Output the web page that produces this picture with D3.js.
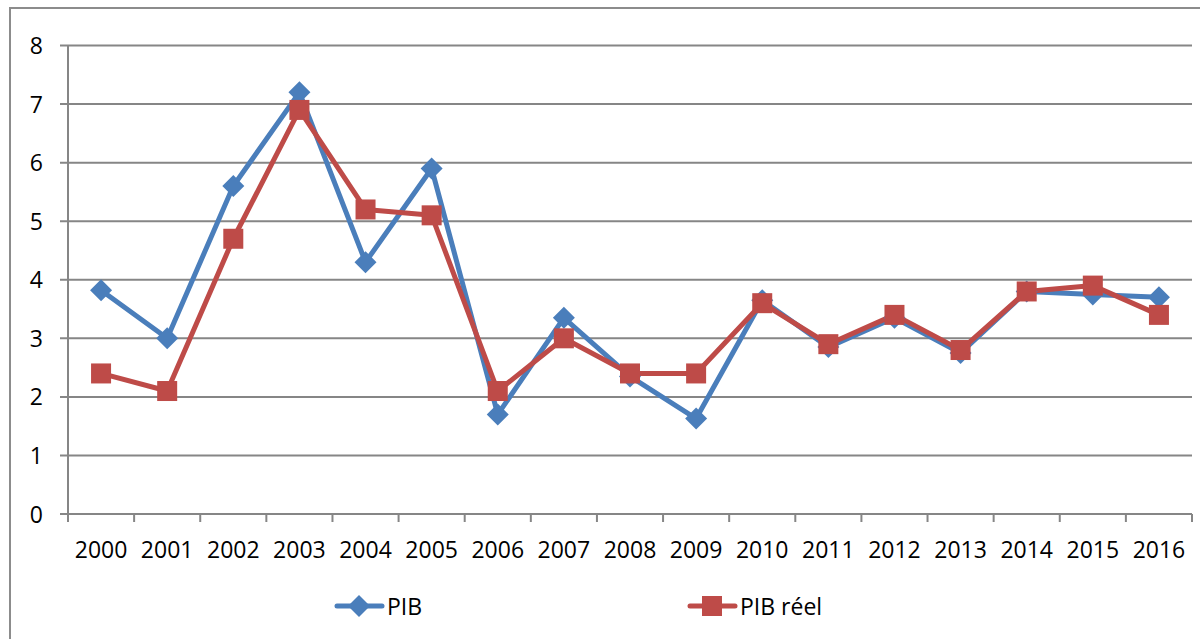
<!doctype html>
<html>
<head>
<meta charset="UTF-8">
<script src="https://cdn.jsdelivr.net/npm/d3@7/dist/d3.min.js"></script>
<style>
  body { margin: 0; background: #fff; }
  text { font-family: "Open Sans", "Noto Sans", sans-serif; fill: #000; }
</style>
</head>
<body>
<script>
var years = ['2000','2001','2002','2003','2004','2005','2006','2007','2008','2009','2010','2011','2012','2013','2014','2015','2016'];
var pib     = [3.82, 3.0, 5.6, 7.2, 4.3, 5.9, 1.7, 3.35, 2.35, 1.63, 3.65, 2.85, 3.35, 2.75, 3.8, 3.75, 3.7];
var pibReel = [2.4, 2.1, 4.7, 6.9, 5.2, 5.1, 2.1, 3.0, 2.4, 2.4, 3.6, 2.9, 3.4, 2.8, 3.8, 3.9, 3.4];
var yTicks  = [0, 1, 2, 3, 4, 5, 6, 7, 8];

var W = 1200, H = 639;
var plotLeft = 68, plotRight = 1192, plotTop = 45.5, plotBottom = 514;

var svg = d3.select("body").append("svg")
    .attr("width", W).attr("height", H);

// outer frame
svg.append("rect")
    .attr("x", 10).attr("y", 8)
    .attr("width", W + 10).attr("height", H + 10)
    .style("fill", "none").style("stroke", "#8c8c8c").style("stroke-width", 2);

var x = d3.scaleBand().domain(years).range([plotLeft, plotRight]);
var y = d3.scaleLinear().domain([0, 8]).range([plotBottom, plotTop]);

// gridlines + y tick marks
svg.selectAll(".grid")
    .data(yTicks)
    .enter().append("line")
    .attr("x1", plotLeft - 8).attr("x2", plotRight)
    .attr("y1", function (d) { return y(d); })
    .attr("y2", function (d) { return y(d); })
    .style("stroke", "#868686").style("stroke-width", 2);

svg.selectAll(".ylab")
    .data(yTicks)
    .enter().append("text")
    .attr("x", 43)
    .attr("y", function (d) { return y(d) + 8.5; })
    .style("text-anchor", "end")
    .style("font-size", "23px")
    .text(function (d) { return d; });

// y axis
svg.append("line")
    .attr("x1", plotLeft).attr("x2", plotLeft)
    .attr("y1", plotTop).attr("y2", plotBottom)
    .style("stroke", "#868686").style("stroke-width", 2);

// x axis ticks (between bands)
var edges = years.map(function (d) { return x(d); }).concat([plotRight]);
svg.selectAll(".xtick")
    .data(edges)
    .enter().append("line")
    .attr("x1", function (d) { return d; })
    .attr("x2", function (d) { return d; })
    .attr("y1", plotBottom).attr("y2", plotBottom + 8)
    .style("stroke", "#868686").style("stroke-width", 2);

svg.selectAll(".xlab")
    .data(years)
    .enter().append("text")
    .attr("x", function (d) { return x(d) + x.bandwidth() / 2; })
    .attr("y", 558)
    .style("text-anchor", "middle")
    .style("font-size", "23px")
    .text(function (d) { return d; });

var blue = "#4a7ebb", red = "#be4b48";

var line = d3.line()
    .x(function (d, i) { return x(years[i]) + x.bandwidth() / 2; })
    .y(function (d) { return y(d); });

svg.append("path").datum(pib)
    .attr("d", line)
    .style("fill", "none").style("stroke", blue)
    .style("stroke-width", 5).style("stroke-linejoin", "round");

svg.append("path").datum(pibReel)
    .attr("d", line)
    .style("fill", "none").style("stroke", red)
    .style("stroke-width", 5).style("stroke-linejoin", "round");

var diamond = "M0,-11L11,0L0,11L-11,0Z";

svg.selectAll(".dia")
    .data(pib)
    .enter().append("path")
    .attr("d", diamond)
    .attr("transform", function (d, i) {
        return "translate(" + (x(years[i]) + x.bandwidth() / 2) + "," + y(d) + ")";
    })
    .style("fill", blue);

svg.selectAll(".sq")
    .data(pibReel)
    .enter().append("rect")
    .attr("x", function (d, i) { return x(years[i]) + x.bandwidth() / 2 - 10; })
    .attr("y", function (d) { return y(d) - 10; })
    .attr("width", 20).attr("height", 20)
    .style("fill", red);

// legend
var ly = 606;
svg.append("line").attr("x1", 337).attr("x2", 382).attr("y1", ly).attr("y2", ly)
    .style("stroke", blue).style("stroke-width", 5).style("stroke-linecap", "round");
svg.append("path").attr("d", diamond).attr("transform", "translate(359," + ly + ")")
    .style("fill", blue);
svg.append("text").attr("x", 387).attr("y", ly + 8.5).style("font-size", "23px").text("PIB");

svg.append("line").attr("x1", 690).attr("x2", 735).attr("y1", ly).attr("y2", ly)
    .style("stroke", red).style("stroke-width", 5).style("stroke-linecap", "round");
svg.append("rect").attr("x", 702).attr("y", ly - 10).attr("width", 20).attr("height", 20)
    .style("fill", red);
svg.append("text").attr("x", 740).attr("y", ly + 8.5).style("font-size", "23px").text("PIB réel");
</script>
</body>
</html>
